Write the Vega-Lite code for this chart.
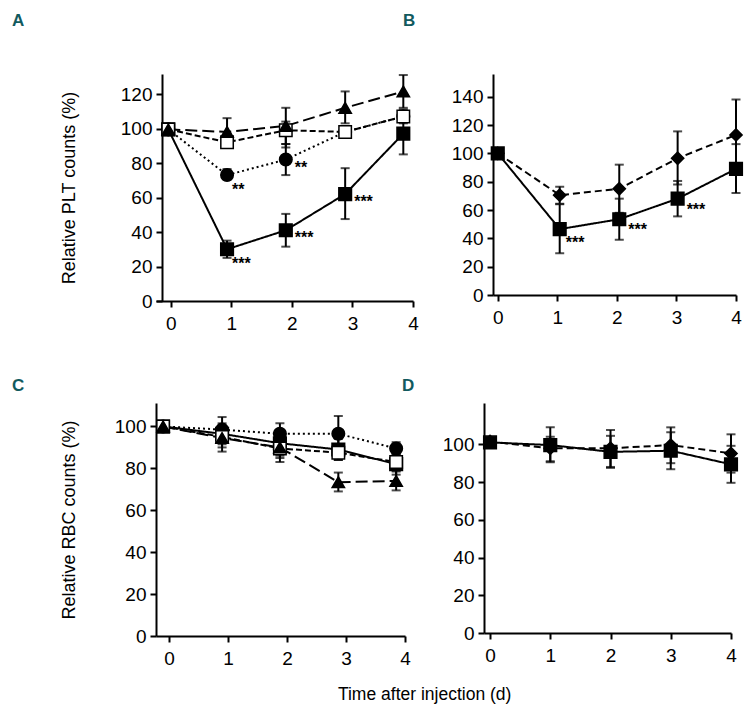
{
  "$schema": "https://vega.github.io/schema/vega-lite/v6.json",
  "padding": {"left": 12, "top": 12, "right": 5, "bottom": 4},
  "background": "white",
  "datasets": {
    "A": [
      {"series": "sq", "day": -0.04, "value": 99.5, "lo": 98, "hi": 101},
      {"series": "sq", "day": 0.93, "value": 30, "lo": 25, "hi": 35, "sig": "***"},
      {"series": "sq", "day": 1.9, "value": 41, "lo": 31.5, "hi": 50.5, "sig": "***"},
      {"series": "sq", "day": 2.88, "value": 62, "lo": 47.5, "hi": 77, "sig": "***"},
      {"series": "sq", "day": 3.84, "value": 97, "lo": 85, "hi": 108},
      {"series": "ci", "day": -0.04, "value": 99.5, "lo": 98, "hi": 101},
      {"series": "ci", "day": 0.93, "value": 73, "lo": 70.5, "hi": 76.5, "sig": "**"},
      {"series": "ci", "day": 1.9, "value": 82, "lo": 73, "hi": 91, "sig": "**"},
      {"series": "ci", "day": 2.88, "value": 98, "lo": 95, "hi": 101},
      {"series": "ci", "day": 3.84, "value": 107, "lo": 103, "hi": 111},
      {"series": "os", "day": -0.04, "value": 99.5, "lo": 98, "hi": 101},
      {"series": "os", "day": 0.93, "value": 92, "lo": 89, "hi": 95},
      {"series": "os", "day": 1.9, "value": 99, "lo": 89, "hi": 104},
      {"series": "os", "day": 2.88, "value": 98, "lo": 96, "hi": 101},
      {"series": "os", "day": 3.84, "value": 107, "lo": 104, "hi": 110},
      {"series": "tr", "day": -0.04, "value": 99.5, "lo": 98, "hi": 101},
      {"series": "tr", "day": 0.93, "value": 98, "lo": 90, "hi": 106},
      {"series": "tr", "day": 1.9, "value": 101.5, "lo": 91, "hi": 112},
      {"series": "tr", "day": 2.88, "value": 112, "lo": 103, "hi": 121.5},
      {"series": "tr", "day": 3.84, "value": 121.5, "lo": 112, "hi": 131}
    ],
    "B": [
      {"series": "sq", "day": 0, "value": 100, "lo": 97, "hi": 102},
      {"series": "sq", "day": 1.04, "value": 46.5, "lo": 29.5, "hi": 64, "sig": "***"},
      {"series": "sq", "day": 2.04, "value": 53.5, "lo": 39, "hi": 68, "sig": "***"},
      {"series": "sq", "day": 3.02, "value": 68, "lo": 55.5, "hi": 80.5, "sig": "***"},
      {"series": "sq", "day": 4.0, "value": 89, "lo": 72, "hi": 106.5},
      {"series": "di", "day": 0, "value": 100, "lo": 97, "hi": 103},
      {"series": "di", "day": 1.04, "value": 70.5, "lo": 64.5, "hi": 76.5},
      {"series": "di", "day": 2.04, "value": 75, "lo": 58, "hi": 92},
      {"series": "di", "day": 3.02, "value": 96.5, "lo": 78, "hi": 115.5},
      {"series": "di", "day": 4.0, "value": 113, "lo": 88, "hi": 138}
    ],
    "C": [
      {"series": "sq", "day": -0.1, "value": 100, "lo": 98.5, "hi": 101.5},
      {"series": "sq", "day": 0.9, "value": 96.5, "lo": 91.5, "hi": 101.5},
      {"series": "sq", "day": 1.88, "value": 92, "lo": 86, "hi": 98},
      {"series": "sq", "day": 2.87, "value": 89, "lo": 84, "hi": 94},
      {"series": "sq", "day": 3.85, "value": 82, "lo": 77, "hi": 87},
      {"series": "ci", "day": -0.1, "value": 100, "lo": 98.5, "hi": 101.5},
      {"series": "ci", "day": 0.9, "value": 98.5, "lo": 93, "hi": 104.5},
      {"series": "ci", "day": 1.88, "value": 96.5, "lo": 91.5, "hi": 101.5},
      {"series": "ci", "day": 2.87, "value": 96.5, "lo": 88, "hi": 105},
      {"series": "ci", "day": 3.85, "value": 89.5, "lo": 86.5, "hi": 92.5},
      {"series": "os", "day": -0.1, "value": 100, "lo": 98.5, "hi": 101.5},
      {"series": "os", "day": 0.9, "value": 95, "lo": 88, "hi": 100},
      {"series": "os", "day": 1.88, "value": 89.5, "lo": 83, "hi": 95},
      {"series": "os", "day": 2.87, "value": 87.5, "lo": 84, "hi": 91},
      {"series": "os", "day": 3.85, "value": 83, "lo": 79, "hi": 87},
      {"series": "tr", "day": -0.1, "value": 100, "lo": 98.5, "hi": 101.5},
      {"series": "tr", "day": 0.9, "value": 94.5, "lo": 90, "hi": 99},
      {"series": "tr", "day": 1.88, "value": 90, "lo": 85, "hi": 95},
      {"series": "tr", "day": 2.87, "value": 73.4, "lo": 69, "hi": 78},
      {"series": "tr", "day": 3.85, "value": 74, "lo": 69.5, "hi": 78.5}
    ],
    "D": [
      {"series": "sq", "day": 0, "value": 101, "lo": 99.5, "hi": 102.5},
      {"series": "sq", "day": 1, "value": 99.6, "lo": 91, "hi": 109},
      {"series": "sq", "day": 2, "value": 96, "lo": 87.5, "hi": 104.5},
      {"series": "sq", "day": 3, "value": 96.6, "lo": 86.8, "hi": 106.4},
      {"series": "sq", "day": 4, "value": 89.4, "lo": 79.6, "hi": 99.2},
      {"series": "di", "day": 0, "value": 101.5, "lo": 100, "hi": 103},
      {"series": "di", "day": 1, "value": 97.9, "lo": 90.5, "hi": 104},
      {"series": "di", "day": 2, "value": 97.9, "lo": 88, "hi": 107.6},
      {"series": "di", "day": 3, "value": 99.6, "lo": 90, "hi": 109},
      {"series": "di", "day": 4, "value": 95.2, "lo": 85, "hi": 105.3}
    ]
  },
  "title": {"text": "Time after injection (d)", "orient": "bottom", "anchor": "middle", "fontSize": 17.5, "fontWeight": "normal", "font": "Liberation Sans", "color": "black", "offset": 18, "dx": 46},
  "spacing": 44,
  "vconcat": [
    {
      "bounds": "flush",
      "spacing": 80,
      "hconcat": [
        {
          "width": 257, "height": 227,
          "title": {"text": "A", "anchor": "start", "frame": "group", "dx": -144, "offset": 44, "fontSize": 17, "font": "Liberation Sans", "fontWeight": "bold", "color": "#125a5e"},
          "data": {"name": "A"},
          "encoding": {
            "x": {"field": "day", "type": "quantitative", "scale": {"domain": [-0.243, 4], "nice": false, "zero": false}, "axis": {"values": [0, 1, 2, 3, 4], "title": null}}
          },
          "layer": [
            {"mark": {"type": "line", "color": "black", "strokeWidth": 2},
             "encoding": {
               "y": {"field": "value", "type": "quantitative", "scale": {"domain": [0, 131.6], "nice": false}, "axis": {"values": [0, 20, 40, 60, 80, 100, 120], "title": "Relative PLT counts (%)", "titlePadding": 42, "offset": -6}},
               "detail": {"field": "series", "type": "nominal"},
               "strokeDash": {"field": "series", "type": "nominal", "scale": {"domain": ["sq", "ci", "os", "tr", "di"], "range": [[1, 0], [2, 3], [6, 3], [12, 5], [7, 4]]}, "legend": null}
             }},
            {"mark": {"type": "rule", "color": "black", "strokeWidth": 2},
             "encoding": {
               "y": {"field": "lo", "type": "quantitative", "scale": {"domain": [0, 131.6], "nice": false}, "axis": {"values": [0, 20, 40, 60, 80, 100, 120], "title": "Relative PLT counts (%)", "titlePadding": 42, "offset": -6}},
               "y2": {"field": "hi"}
             }},
            {"transform": [{"fold": ["lo", "hi"], "as": ["end", "bar"]}],
             "mark": {"type": "tick", "orient": "horizontal", "color": "black", "thickness": 2, "size": 9},
             "encoding": {
               "y": {"field": "bar", "type": "quantitative", "scale": {"domain": [0, 131.6], "nice": false}, "axis": {"values": [0, 20, 40, 60, 80, 100, 120], "title": "Relative PLT counts (%)", "titlePadding": 42, "offset": -6}}
             }},
            {"mark": {"type": "point", "filled": true, "stroke": "black", "strokeWidth": 1.5, "opacity": 1},
             "encoding": {
               "y": {"field": "value", "type": "quantitative", "scale": {"domain": [0, 131.6], "nice": false}, "axis": {"values": [0, 20, 40, 60, 80, 100, 120], "title": "Relative PLT counts (%)", "titlePadding": 42, "offset": -6}},
               "shape": {"field": "series", "type": "nominal", "scale": {"domain": ["sq", "ci", "os", "tr", "di"], "range": ["square", "circle", "square", "triangle-up", "diamond"]}, "legend": null},
               "fill": {"field": "series", "type": "nominal", "scale": {"domain": ["sq", "ci", "os", "tr", "di"], "range": ["black", "black", "white", "black", "black"]}, "legend": null},
               "size": {"field": "series", "type": "nominal", "scale": {"domain": ["sq", "ci", "os", "tr", "di"], "range": [160, 150, 120, 220, 230]}, "legend": null}
             }},
            {"transform": [{"filter": "datum.sig && datum.day < 1.5"}],
             "mark": {"type": "text", "align": "left", "baseline": "middle", "dx": 5, "dy": 15, "fontSize": 16, "fontWeight": "bold", "font": "Liberation Sans", "color": "black"},
             "encoding": {
               "y": {"field": "value", "type": "quantitative", "scale": {"domain": [0, 131.6], "nice": false}, "axis": {"values": [0, 20, 40, 60, 80, 100, 120], "title": "Relative PLT counts (%)", "titlePadding": 42, "offset": -6}},
               "text": {"field": "sig"}
             }},
            {"transform": [{"filter": "datum.sig && datum.day >= 1.5"}],
             "mark": {"type": "text", "align": "left", "baseline": "middle", "dx": 9, "dy": 8, "fontSize": 16, "fontWeight": "bold", "font": "Liberation Sans", "color": "black"},
             "encoding": {
               "y": {"field": "value", "type": "quantitative", "scale": {"domain": [0, 131.6], "nice": false}, "axis": {"values": [0, 20, 40, 60, 80, 100, 120], "title": "Relative PLT counts (%)", "titlePadding": 42, "offset": -6}},
               "text": {"field": "sig"}
             }}
          ]
        },
        {
          "width": 243, "height": 221,
          "title": {"text": "B", "anchor": "start", "frame": "group", "dx": -90, "offset": 44, "fontSize": 17, "font": "Liberation Sans", "fontWeight": "bold", "color": "#125a5e"},
          "data": {"name": "B"},
          "encoding": {
            "x": {"field": "day", "type": "quantitative", "scale": {"domain": [-0.08, 4], "nice": false, "zero": false}, "axis": {"values": [0, 1, 2, 3, 4], "title": null}}
          },
          "layer": [
            {"mark": {"type": "line", "color": "black", "strokeWidth": 2},
             "encoding": {
               "y": {"field": "value", "type": "quantitative", "scale": {"domain": [0, 156], "nice": false}, "axis": {"values": [0, 20, 40, 60, 80, 100, 120, 140], "title": null}},
               "detail": {"field": "series", "type": "nominal"},
               "strokeDash": {"field": "series", "type": "nominal", "scale": {"domain": ["sq", "ci", "os", "tr", "di"], "range": [[1, 0], [2, 3], [6, 3], [12, 5], [7, 4]]}, "legend": null}
             }},
            {"mark": {"type": "rule", "color": "black", "strokeWidth": 2},
             "encoding": {
               "y": {"field": "lo", "type": "quantitative", "scale": {"domain": [0, 156], "nice": false}, "axis": {"values": [0, 20, 40, 60, 80, 100, 120, 140], "title": null}},
               "y2": {"field": "hi"}
             }},
            {"transform": [{"fold": ["lo", "hi"], "as": ["end", "bar"]}],
             "mark": {"type": "tick", "orient": "horizontal", "color": "black", "thickness": 2, "size": 9},
             "encoding": {
               "y": {"field": "bar", "type": "quantitative", "scale": {"domain": [0, 156], "nice": false}, "axis": {"values": [0, 20, 40, 60, 80, 100, 120, 140], "title": null}}
             }},
            {"mark": {"type": "point", "filled": true, "stroke": "black", "strokeWidth": 1.5, "opacity": 1},
             "encoding": {
               "y": {"field": "value", "type": "quantitative", "scale": {"domain": [0, 156], "nice": false}, "axis": {"values": [0, 20, 40, 60, 80, 100, 120, 140], "title": null}},
               "shape": {"field": "series", "type": "nominal", "scale": {"domain": ["sq", "ci", "os", "tr", "di"], "range": ["square", "circle", "square", "triangle-up", "diamond"]}, "legend": null},
               "fill": {"field": "series", "type": "nominal", "scale": {"domain": ["sq", "ci", "os", "tr", "di"], "range": ["black", "black", "white", "black", "black"]}, "legend": null},
               "size": {"field": "series", "type": "nominal", "scale": {"domain": ["sq", "ci", "os", "tr", "di"], "range": [160, 150, 120, 220, 230]}, "legend": null}
             }},
            {"transform": [{"filter": "datum.sig && datum.day < 1.5"}],
             "mark": {"type": "text", "align": "left", "baseline": "middle", "dx": 6, "dy": 14, "fontSize": 16, "fontWeight": "bold", "font": "Liberation Sans", "color": "black"},
             "encoding": {
               "y": {"field": "value", "type": "quantitative", "scale": {"domain": [0, 156], "nice": false}, "axis": {"values": [0, 20, 40, 60, 80, 100, 120, 140], "title": null}},
               "text": {"field": "sig"}
             }},
            {"transform": [{"filter": "datum.sig && datum.day >= 1.5"}],
             "mark": {"type": "text", "align": "left", "baseline": "middle", "dx": 9, "dy": 11, "fontSize": 16, "fontWeight": "bold", "font": "Liberation Sans", "color": "black"},
             "encoding": {
               "y": {"field": "value", "type": "quantitative", "scale": {"domain": [0, 156], "nice": false}, "axis": {"values": [0, 20, 40, 60, 80, 100, 120, 140], "title": null}},
               "text": {"field": "sig"}
             }}
          ]
        }
      ]
    },
    {
      "bounds": "flush",
      "spacing": 79,
      "hconcat": [
        {
          "width": 249, "height": 233,
          "title": {"text": "C", "anchor": "start", "frame": "group", "dx": -144, "offset": 8, "fontSize": 17, "font": "Liberation Sans", "fontWeight": "bold", "color": "#125a5e"},
          "data": {"name": "C"},
          "encoding": {
            "x": {"field": "day", "type": "quantitative", "scale": {"domain": [-0.22, 4], "nice": false, "zero": false}, "axis": {"values": [0, 1, 2, 3, 4], "title": null}}
          },
          "layer": [
            {"mark": {"type": "line", "color": "black", "strokeWidth": 2},
             "encoding": {
               "y": {"field": "value", "type": "quantitative", "scale": {"domain": [0, 111.2], "nice": false}, "axis": {"values": [0, 20, 40, 60, 80, 100], "title": "Relative RBC counts (%)", "titlePadding": 36}},
               "detail": {"field": "series", "type": "nominal"},
               "strokeDash": {"field": "series", "type": "nominal", "scale": {"domain": ["sq", "ci", "os", "tr", "di"], "range": [[1, 0], [2, 3], [6, 3], [12, 5], [7, 4]]}, "legend": null}
             }},
            {"mark": {"type": "rule", "color": "black", "strokeWidth": 2},
             "encoding": {
               "y": {"field": "lo", "type": "quantitative", "scale": {"domain": [0, 111.2], "nice": false}, "axis": {"values": [0, 20, 40, 60, 80, 100], "title": "Relative RBC counts (%)", "titlePadding": 36}},
               "y2": {"field": "hi"}
             }},
            {"transform": [{"fold": ["lo", "hi"], "as": ["end", "bar"]}],
             "mark": {"type": "tick", "orient": "horizontal", "color": "black", "thickness": 2, "size": 9},
             "encoding": {
               "y": {"field": "bar", "type": "quantitative", "scale": {"domain": [0, 111.2], "nice": false}, "axis": {"values": [0, 20, 40, 60, 80, 100], "title": "Relative RBC counts (%)", "titlePadding": 36}}
             }},
            {"mark": {"type": "point", "filled": true, "stroke": "black", "strokeWidth": 1.5, "opacity": 1},
             "encoding": {
               "y": {"field": "value", "type": "quantitative", "scale": {"domain": [0, 111.2], "nice": false}, "axis": {"values": [0, 20, 40, 60, 80, 100], "title": "Relative RBC counts (%)", "titlePadding": 36}},
               "shape": {"field": "series", "type": "nominal", "scale": {"domain": ["sq", "ci", "os", "tr", "di"], "range": ["square", "circle", "square", "triangle-up", "diamond"]}, "legend": null},
               "fill": {"field": "series", "type": "nominal", "scale": {"domain": ["sq", "ci", "os", "tr", "di"], "range": ["black", "black", "white", "black", "black"]}, "legend": null},
               "size": {"field": "series", "type": "nominal", "scale": {"domain": ["sq", "ci", "os", "tr", "di"], "range": [160, 150, 120, 220, 230]}, "legend": null}
             }}
          ]
        },
        {
          "width": 247, "height": 230,
          "title": {"text": "D", "anchor": "start", "frame": "group", "dx": -82, "offset": 8, "fontSize": 17, "font": "Liberation Sans", "fontWeight": "bold", "color": "#125a5e"},
          "data": {"name": "D"},
          "encoding": {
            "x": {"field": "day", "type": "quantitative", "scale": {"domain": [-0.1, 4], "nice": false, "zero": false}, "axis": {"values": [0, 1, 2, 3, 4], "title": null}}
          },
          "layer": [
            {"mark": {"type": "line", "color": "black", "strokeWidth": 2},
             "encoding": {
               "y": {"field": "value", "type": "quantitative", "scale": {"domain": [0, 121.9], "nice": false}, "axis": {"values": [0, 20, 40, 60, 80, 100], "title": null}},
               "detail": {"field": "series", "type": "nominal"},
               "strokeDash": {"field": "series", "type": "nominal", "scale": {"domain": ["sq", "ci", "os", "tr", "di"], "range": [[1, 0], [2, 3], [6, 3], [12, 5], [6, 4]]}, "legend": null}
             }},
            {"mark": {"type": "rule", "color": "black", "strokeWidth": 2},
             "encoding": {
               "y": {"field": "lo", "type": "quantitative", "scale": {"domain": [0, 121.9], "nice": false}, "axis": {"values": [0, 20, 40, 60, 80, 100], "title": null}},
               "y2": {"field": "hi"}
             }},
            {"transform": [{"fold": ["lo", "hi"], "as": ["end", "bar"]}],
             "mark": {"type": "tick", "orient": "horizontal", "color": "black", "thickness": 2, "size": 9},
             "encoding": {
               "y": {"field": "bar", "type": "quantitative", "scale": {"domain": [0, 121.9], "nice": false}, "axis": {"values": [0, 20, 40, 60, 80, 100], "title": null}}
             }},
            {"mark": {"type": "point", "filled": true, "stroke": "black", "strokeWidth": 1.5, "opacity": 1},
             "encoding": {
               "y": {"field": "value", "type": "quantitative", "scale": {"domain": [0, 121.9], "nice": false}, "axis": {"values": [0, 20, 40, 60, 80, 100], "title": null}},
               "shape": {"field": "series", "type": "nominal", "scale": {"domain": ["sq", "ci", "os", "tr", "di"], "range": ["square", "circle", "square", "triangle-up", "diamond"]}, "legend": null},
               "fill": {"field": "series", "type": "nominal", "scale": {"domain": ["sq", "ci", "os", "tr", "di"], "range": ["black", "black", "white", "black", "black"]}, "legend": null},
               "size": {"field": "series", "type": "nominal", "scale": {"domain": ["sq", "ci", "os", "tr", "di"], "range": [160, 150, 120, 220, 230]}, "legend": null}
             }}
          ]
        }
      ]
    }
  ],
  "config": {
    "view": {"stroke": null},
    "axis": {
      "domainColor": "black", "domainWidth": 2, "tickColor": "black", "tickWidth": 2, "tickSize": 6,
      "labelFont": "Liberation Sans", "labelFontSize": 19, "labelColor": "black", "labelPadding": 4, "labelFlush": false, "labelOverlap": false,
      "grid": false, "titleFont": "Liberation Sans", "titleFontSize": 18, "titleFontWeight": "normal", "titleColor": "black"
    },
    "axisX": {"labelPadding": 7}
  }
}
